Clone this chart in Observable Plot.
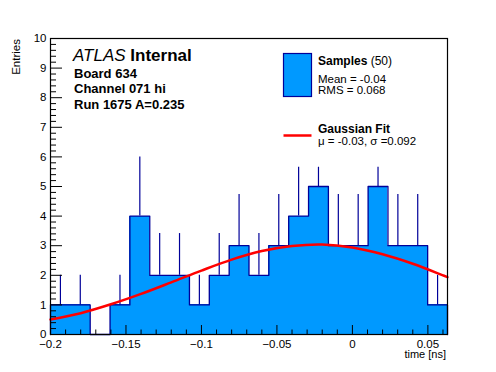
<!DOCTYPE html>
<html><head><meta charset="utf-8">
<script src="https://cdn.jsdelivr.net/npm/d3@7"></script>
<script src="https://cdn.jsdelivr.net/npm/@observablehq/plot@0.6"></script>
<style>
body{margin:0;background:#fff;}
#chart svg text{font-family:"Liberation Sans",Arial,sans-serif;}
</style></head><body><div id="chart"></div>
<script>
// Histogram: 20 bins from xMin to xMax
const xMin = -0.2, xMax = 0.063, nBins = 20;
const counts = [1, 1, 0, 1, 4, 2, 2, 1, 2, 3, 2, 3, 4, 5, 3, 3, 5, 3, 3, 1];
const errTop = [2, 2, null, 2, 6, 3.41, 3.41, 2, 3.41, 4.73, 3.41, 4.73, 5.65, 5.65, 4.73, 4.73, 5.65, 4.73, 4.73, 2];
// Gaussian fit curve
const fitX = [-0.2, -0.18, -0.16, -0.14, -0.12, -0.1, -0.08, -0.06, -0.04, -0.02, 0, 0.02, 0.04, 0.06, 0.063];
const fitY = [0.51, 0.72, 1.02, 1.37, 1.76, 2.16, 2.53, 2.82, 2.99, 3.04, 2.94, 2.71, 2.39, 2.0, 1.94];
const xMajor = [-0.2, -0.15, -0.1, -0.05, 0, 0.05];
const yMajor = [0, 1, 2, 3, 4, 5, 6, 7, 8, 9, 10];
const xMinor = d3.range(-20, 7).map(i => i / 100).filter(v => Math.abs(Math.round(v * 100) % 5) !== 0);
const yMinor = d3.range(0, 51).map(i => i / 5).filter(v => Math.abs(v - Math.round(v)) > 1e-6);

const W = 496, H = 372, mL = 50, mR = 49, mT = 38, mB = 38;
const pw = W - mL - mR, ph = H - mT - mB;
const bw = (xMax - xMin) / nBins;
const bins = counts.map((c, i) => ({x1: xMin + i * bw, x2: xMin + (i + 1) * bw, xc: xMin + (i + 0.5) * bw, y: c, top: errTop[i]}));
const outline = [{x: xMin, y: 0}, ...bins.map(b => ({x: b.x1, y: b.y})), {x: xMax, y: counts[nBins - 1]}, {x: xMax, y: 0}];
const fit = fitX.map((x, i) => ({x, y: fitY[i]}));
const navy = "#000099", fillC = "#0099ff";

const plot = Plot.plot({
  width: W, height: H,
  marginLeft: mL, marginRight: mR, marginTop: mT, marginBottom: mB,
  style: {fontFamily: "'Liberation Sans', Arial, sans-serif", fontSize: "11px", background: "#fff", color: "#000"},
  x: {domain: [xMin, xMax], axis: null},
  y: {domain: [0, 10], axis: null},
  marks: [
    Plot.rectY(bins, {x1: "x1", x2: "x2", y1: 0, y2: "y", fill: fillC, inset: 0, shapeRendering: "crispEdges"}),
    Plot.ruleX(bins.filter(b => b.top != null), {x: "xc", y1: "y", y2: "top", stroke: navy, strokeWidth: 1.2}),
    Plot.line(outline, {x: "x", y: "y", curve: "step-after", stroke: navy, strokeWidth: 1.3}),
    Plot.line(fit, {x: "x", y: "y", curve: "catmull-rom", stroke: "#ff0000", strokeWidth: 2.5}),
    Plot.tickX(xMajor, {x: d => d, insetTop: ph - 9, stroke: "#000"}),
    Plot.tickX(xMinor, {x: d => d, insetTop: ph - 4.5, stroke: "#000"}),
    Plot.tickY(yMajor, {y: d => d, insetRight: pw - 12, stroke: "#000"}),
    Plot.tickY(yMinor, {y: d => d, insetRight: pw - 6, stroke: "#000"}),
    Plot.axisX(xMajor, {tickSize: 0, tickPadding: 5, fontSize: 11.5, tickFormat: d => d3.format("")(d), label: null}),
    Plot.axisY(yMajor, {tickSize: 0, tickPadding: 4, fontSize: 11.5, tickFormat: d => String(d), label: null}),
    Plot.frame({stroke: "#000", strokeWidth: 1.2})
  ]
});
document.getElementById("chart").appendChild(plot);

// Annotations and legend
const svg = d3.select(plot);
const ff = "'Liberation Sans', Arial, sans-serif";
function txt(x, y, size, parts, anchor = "start") {
  const t = svg.append("text").attr("x", x).attr("y", y).attr("font-size", size)
    .attr("font-family", ff).attr("dominant-baseline", "middle").attr("text-anchor", anchor).attr("fill", "#000");
  parts.forEach(p => {
    const s = t.append("tspan").text(p.t);
    if (p.w) s.attr("font-weight", p.w);
    if (p.s) s.attr("font-style", p.s);
  });
  return t;
}
txt(73, 57, 17, [{t: "ATLAS", s: "italic"}, {t: " Internal", w: "bold"}]);
txt(74, 74.5, 13, [{t: "Board 634", w: "bold"}]);
txt(74, 90, 13, [{t: "Channel 071 hi", w: "bold"}]);
txt(74, 105.5, 13, [{t: "Run 1675 A=0.235", w: "bold"}]);

svg.append("rect").attr("x", 283.5).attr("y", 53.5).attr("width", 28).attr("height", 43)
  .attr("fill", fillC).attr("stroke", navy).attr("stroke-width", 1.2);
txt(318, 62, 12, [{t: "Samples", w: "bold"}, {t: " (50)"}]);
txt(318, 79.5, 11.5, [{t: "Mean = -0.04"}]);
txt(318, 90.5, 11.5, [{t: "RMS = 0.068"}]);
svg.append("line").attr("x1", 283.5).attr("x2", 311.5).attr("y1", 135.5).attr("y2", 135.5)
  .attr("stroke", "#ff0000").attr("stroke-width", 2.5);
txt(318, 129.5, 12, [{t: "Gaussian Fit", w: "bold"}]);
txt(318, 141.5, 11.5, [{t: "\u03bc = -0.03, \u03c3 =0.092"}]);

txt(446, 354.5, 11, [{t: "time [ns]"}], "end");
svg.append("text").attr("transform", "translate(17,39) rotate(-90)").attr("font-size", 11.5)
  .attr("font-family", ff).attr("text-anchor", "end").attr("dominant-baseline", "middle").text("Entries");
</script></body></html>
